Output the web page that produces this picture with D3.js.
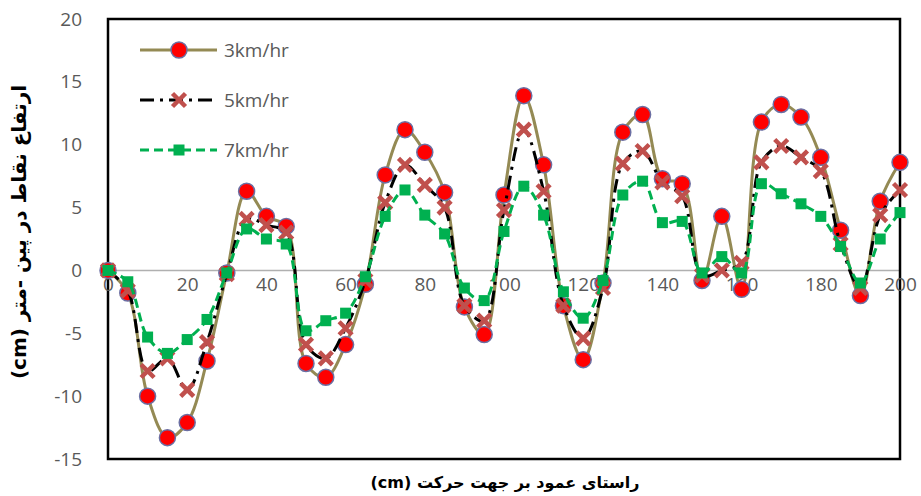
<!DOCTYPE html>
<html><head><meta charset="utf-8">
<script src="https://cdn.jsdelivr.net/npm/d3@7"></script>
<style>body{margin:0;background:#fff}svg{display:block}</style>
</head><body>
<svg id="c" width="921" height="496"></svg>
<script>
const xs = d3.range(0, 201, 5);
const s3 = [0,-1.8,-10.0,-13.3,-12.1,-7.2,-0.2,6.3,4.3,3.5,-7.4,-8.5,-5.9,-1.1,7.6,11.2,9.4,6.2,-2.9,-5.1,6.0,13.9,8.4,-2.8,-7.1,-1.0,11.0,12.4,7.3,6.9,-0.8,4.3,-1.5,11.8,13.2,12.2,9.0,3.2,-2.0,5.5,8.6];
const s5 = [0,-1.6,-8.0,-7.0,-9.5,-5.7,-0.3,4.1,3.6,3.0,-5.9,-7.0,-4.6,-0.8,5.4,8.4,6.8,5.0,-2.8,-4.0,4.8,11.2,6.3,-2.8,-5.4,-1.4,8.5,9.5,7.0,5.9,-0.4,0.0,0.6,8.6,9.9,9.0,7.9,2.1,-1.4,4.4,6.4];
const s7 = [0,-0.9,-5.3,-6.6,-5.5,-3.9,-0.2,3.3,2.5,2.1,-4.8,-4.0,-3.4,-0.5,4.3,6.4,4.4,2.9,-1.4,-2.4,3.1,6.7,4.4,-1.7,-3.8,-0.8,6.0,7.1,3.8,3.9,-0.2,1.1,-0.2,6.9,6.1,5.3,4.3,1.9,-1.0,2.5,4.6];
const seriesNames = ["3km/hr","5km/hr","7km/hr"];
const yTicks = [-15,-10,-5,0,5,10,15,20];
const xTicks = [0,20,40,60,80,100,120,140,160,180,200];
const yTitle = "ارتفاع نقاط در پین -متر (cm)";
const xTitle = "راستای عمود بر جهت حرکت (cm)";

const svg = d3.select("#c");
const L=108, R=900, T=19, B=459;
const x = d3.scaleLinear().domain([0,200]).range([L,R]);
const y = d3.scaleLinear().domain([-15,20]).range([B,T]);
const font = "'Open Sans','DejaVu Sans',sans-serif";
const grey = "#595959";

svg.append("line").attr("x1",L).attr("x2",R).attr("y1",y(0)).attr("y2",y(0)).attr("stroke","#b0b0b0").attr("stroke-width",1.5);
svg.append("rect").attr("x",L).attr("y",T).attr("width",R-L).attr("height",B-T).attr("fill","none").attr("stroke","#000").attr("stroke-width",2.5);

const ya = svg.append("g").attr("transform",`translate(${L},0)`).call(d3.axisLeft(y).tickValues(yTicks).tickFormat(d=>String(d)).tickSize(0).tickPadding(26));
ya.select(".domain").remove();
ya.selectAll("text").attr("font-family",font).attr("font-size",19).attr("fill",grey);
const xa = svg.append("g").attr("transform",`translate(0,${y(0)})`).call(d3.axisBottom(x).tickValues(xTicks).tickFormat(d=>String(d)).tickSize(0).tickPadding(7));
xa.select(".domain").remove();
xa.selectAll("text").attr("font-family",font).attr("font-size",19).attr("fill",grey);

const line = d3.line().x((d,i)=>x(xs[i])).y(d=>y(d)).curve(d3.curveCatmullRom.alpha(0.5));

const styles = [
  {data:s3,color:"#948a54",dash:null,marker:"circle"},
  {data:s5,color:"#000",dash:"14,6,3,6",marker:"x"},
  {data:s7,color:"#00b050",dash:"9,5",marker:"square"}
];
function drawMarker(g,type,cx,cy){
  if(type==="circle"){
    g.append("circle").attr("cx",cx).attr("cy",cy).attr("r",8).attr("fill","#ff0000").attr("stroke","#6b6fa3").attr("stroke-width",1.5);
  } else if(type==="x"){
    const s=6.5;
    g.append("path").attr("d",`M${cx-s},${cy-s}L${cx+s},${cy+s}M${cx-s},${cy+s}L${cx+s},${cy-s}`).attr("stroke","#c0504d").attr("stroke-width",4.5).attr("fill","none");
  } else {
    g.append("rect").attr("x",cx-5.5).attr("y",cy-5.5).attr("width",11).attr("height",11).attr("fill","#00b050");
  }
}
styles.forEach(st=>{
  const g = svg.append("g");
  g.append("path").attr("d",line(st.data)).attr("fill","none").attr("stroke",st.color).attr("stroke-width",3).attr("stroke-dasharray",st.dash);
  st.data.forEach((v,i)=>drawMarker(g,st.marker,x(xs[i]),y(v)));
});

seriesNames.forEach((n,i)=>{
  const ly = 50 + i*50;
  const st = styles[i];
  const g = svg.append("g");
  g.append("line").attr("x1",140).attr("x2",217).attr("y1",ly).attr("y2",ly).attr("stroke",st.color).attr("stroke-width",3).attr("stroke-dasharray",st.dash);
  drawMarker(g,st.marker,179,ly);
  g.append("text").attr("x",224).attr("y",ly).attr("dy","0.35em").attr("font-family",font).attr("font-size",19).attr("fill",grey).text(n);
});

svg.append("text").attr("transform","translate(26,232) rotate(-90)").attr("text-anchor","middle").attr("font-family","'DejaVu Sans',sans-serif").attr("font-weight","bold").attr("font-size",20).attr("fill","#000").attr("direction","rtl").text(yTitle);
svg.append("text").attr("x",505).attr("y",488).attr("text-anchor","middle").attr("font-family","'DejaVu Sans',sans-serif").attr("font-weight","bold").attr("font-size",16).attr("fill","#000").attr("direction","rtl").text(xTitle);
</script>
</body></html>
